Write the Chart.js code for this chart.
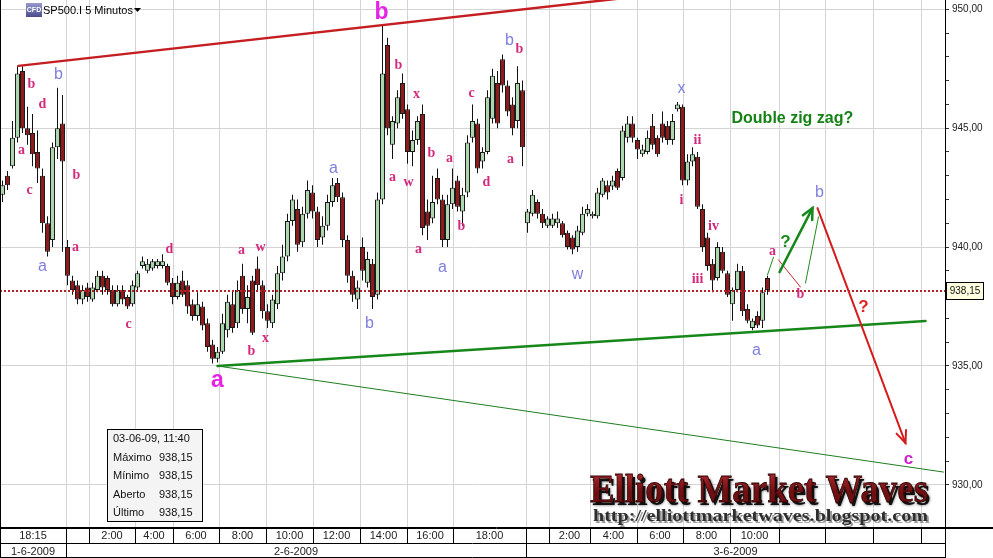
<!DOCTYPE html>
<html>
<head>
<meta charset="utf-8">
<script src="https://cdn.jsdelivr.net/npm/chart.js@4.4.0/dist/chart.umd.min.js"></script>
<style>
  html, body { margin: 0; padding: 0; background: #fff; }
  canvas { display: block; }
</style>
</head>
<body>
<canvas id="chart" width="993" height="558"></canvas>
<script>
// SP500 CFD, 5 minute bars, 1-6-2009 18:15 .. 3-6-2009 11:40
const opens = [942.2, 943.0, 943.4, 944.6, 947.4, 945.0, 944.8, 944.0, 943.0, 941.0,
  940.3, 944.2, 945.2, 940.0, 938.6, 938.4, 937.8, 938.3, 937.8, 938.2,
  938.8, 938.7, 938.2, 937.6, 938.2, 937.9, 937.6, 938.3, 939.2, 939.0,
  939.1, 939.2, 939.2, 939.2, 938.5, 937.9, 938.6, 938.4, 937.6, 937.1,
  937.5, 936.8, 935.9, 935.3, 935.6, 936.5, 937.6, 936.8, 938.8, 937.4,
  938.6, 939.1, 938.4, 937.3, 936.8, 937.6, 938.9, 939.6, 941.1, 941.6,
  940.2, 941.4, 942.3, 941.5, 940.4, 940.9, 941.9, 942.7, 942.1, 940.3,
  938.8, 937.8, 940.0, 938.5, 939.3, 938.0, 942.0, 948.5, 944.3, 945.2,
  946.9, 945.8, 944.0, 944.5, 945.6, 941.5, 941.2, 942.9, 942.0, 940.3,
  941.8, 942.8, 941.5, 942.3, 944.6, 945.2, 943.6, 944.0, 945.4, 946.9,
  947.9, 946.8, 946.0, 945.3, 946.6, 941.0, 941.4, 941.9, 941.4, 940.9,
  940.9, 941.0, 941.0, 940.6, 940.4, 940.0, 940.6, 941.4, 941.3, 941.3,
  942.2, 942.6, 942.55, 943.2, 942.9, 944.6, 945.2, 944.5, 943.9, 944.0,
  945.1, 944.6, 945.2, 945.1, 944.5, 945.8, 945.9, 942.8, 943.6, 943.8,
  941.6, 940.4, 939.3, 938.7, 939.8, 938.9, 937.6, 938.2, 939.0, 937.4,
  936.6, 937.1, 936.9, 938.7, 938.15];
const highs = [942.8, 943.2, 945.3, 947.6, 947.6, 945.9, 945.6, 944.9, 943.3, 941.3,
  944.4, 946.7, 946.4, 940.3, 938.8, 938.6, 938.4, 938.5, 938.5, 939.0,
  939.0, 938.8, 938.4, 938.4, 938.4, 938.0, 938.6, 939.0, 939.6, 939.5,
  939.5, 939.5, 939.7, 939.3, 938.7, 938.8, 939.0, 938.6, 937.8, 938.1,
  937.7, 937.0, 936.1, 935.8, 937.2, 938.0, 938.2, 938.6, 939.3, 938.4,
  938.8, 939.6, 938.6, 937.6, 938.0, 939.2, 940.1, 941.4, 942.2, 942.0,
  941.7, 942.8, 942.6, 941.7, 941.3, 942.2, 942.9, 942.9, 942.3, 940.5,
  939.0, 938.6, 940.4, 939.8, 939.5, 942.3, 949.3, 948.8, 945.5, 946.6,
  947.3, 946.0, 944.9, 945.5, 946.0, 942.0, 943.0, 943.3, 942.2, 942.2,
  943.3, 943.0, 942.5, 944.7, 946.0, 945.4, 944.2, 946.6, 947.5, 947.4,
  948.1, 947.0, 946.3, 947.6, 947.0, 941.6, 942.4, 942.0, 941.6, 941.3,
  941.4, 941.5, 941.1, 940.7, 940.5, 940.9, 941.7, 941.8, 941.5, 942.5,
  942.9, 942.8, 943.0, 943.3, 945.1, 945.5, 945.5, 944.6, 944.3, 944.9,
  945.6, 944.7, 945.7, 945.3, 945.6, 946.1, 946.0, 943.9, 944.2, 944.0,
  941.8, 940.6, 939.5, 940.2, 940.0, 939.0, 938.3, 939.3, 939.2, 937.6,
  937.0, 937.3, 938.3, 938.8, 938.15];
const lows = [941.9, 942.4, 943.3, 944.4, 944.8, 944.3, 943.4, 942.7, 940.6, 939.6,
  940.0, 943.7, 939.8, 938.4, 938.0, 937.6, 937.6, 937.7, 937.7, 938.1,
  938.0, 938.0, 937.5, 937.5, 937.6, 937.4, 937.5, 938.2, 939.1, 938.9,
  939.0, 939.1, 939.1, 938.4, 937.6, 937.8, 937.9, 937.2, 936.9, 936.9,
  936.5, 935.6, 935.1, 935.15, 935.5, 936.2, 936.4, 936.6, 937.2, 936.8,
  936.3, 938.2, 937.0, 936.6, 936.6, 937.4, 938.6, 939.4, 940.9, 939.8,
  940.0, 941.2, 941.2, 940.0, 940.1, 940.7, 941.7, 941.9, 940.0, 938.5,
  937.7, 937.4, 938.6, 938.3, 937.4, 937.8, 941.8, 944.7, 943.7, 945.0,
  945.4, 943.5, 943.4, 944.3, 940.5, 940.3, 941.0, 941.8, 940.0, 940.0,
  941.6, 941.5, 940.9, 942.1, 944.4, 943.1, 943.3, 943.9, 945.2, 945.0,
  946.5, 945.5, 944.7, 945.0, 943.4, 940.6, 941.3, 941.2, 940.8, 940.8,
  940.8, 940.8, 940.4, 939.9, 939.7, 939.8, 940.5, 941.3, 941.2, 941.2,
  942.1, 942.0, 942.4, 942.4, 942.8, 944.4, 944.4, 943.7, 943.8, 943.9,
  944.1, 943.8, 944.4, 944.3, 944.3, 945.7, 942.6, 942.6, 943.4, 941.6,
  939.8, 939.0, 938.1, 938.6, 938.9, 937.9, 936.9, 938.1, 937.1, 936.8,
  936.5, 936.6, 936.6, 938.0, 938.15];
const closes = [942.6, 942.6, 944.6, 947.3, 945.0, 944.7, 943.9, 943.3, 941.0, 939.8,
  944.2, 945.0, 943.6, 938.8, 938.2, 937.8, 938.2, 937.9, 938.3, 938.8,
  938.3, 938.2, 937.6, 938.2, 937.8, 937.5, 938.4, 938.9, 939.4, 939.3,
  939.4, 939.4, 939.4, 938.5, 937.9, 938.5, 938.0, 937.5, 937.1, 937.6,
  936.7, 935.8, 935.3, 935.6, 936.8, 937.7, 936.6, 938.2, 937.4, 937.9,
  936.4, 938.4, 937.3, 936.9, 937.8, 938.9, 939.6, 941.1, 942.0, 940.1,
  941.4, 942.4, 941.5, 940.3, 940.9, 941.9, 942.6, 942.1, 940.3, 938.8,
  938.0, 938.3, 939.0, 939.5, 937.9, 942.0, 947.3, 945.0, 945.3, 946.3,
  945.6, 944.0, 944.5, 945.3, 940.8, 940.9, 941.9, 942.0, 940.3, 941.8,
  942.5, 941.7, 942.2, 944.4, 945.3, 943.3, 944.0, 946.3, 947.2, 945.2,
  946.8, 945.7, 945.0, 946.9, 944.2, 941.5, 942.2, 941.4, 941.0, 941.2,
  941.2, 941.2, 940.5, 940.0, 939.9, 940.7, 941.4, 941.6, 941.4, 942.3,
  942.8, 942.3, 942.8, 942.5, 944.9, 945.2, 944.6, 944.1, 944.1, 944.6,
  944.3, 943.9, 944.6, 944.5, 945.3, 946.0, 942.8, 943.6, 943.9, 941.7,
  940.0, 939.2, 938.6, 940.0, 939.0, 938.0, 938.2, 939.0, 937.3, 936.9,
  936.9, 936.7, 938.1, 938.2, 938.15];
const lastStamp = '03-06-09, 11:40';

// y axis: one tick per point, labelled every 5
const yTicks = [930, 931, 932, 933, 934, 935, 936, 937, 938, 939, 940,
  941, 942, 943, 944, 945, 946, 947, 948, 949, 950];

// time axis (bar index where each time cell starts)
const timeBounds = [12.6, 17.2, 26.4, 34, 43.2, 52.6, 62, 71.4, 80.8, 90,
  104.6, 109.2, 117.6, 126.8, 136.2, 145.6, 155.2, 164.4, 174.2, 183.6];
const timeLabels = ['18:15', '', '2:00', '4:00', '6:00', '8:00', '10:00', '12:00', '14:00', '16:00',
  '18:00', '', '2:00', '4:00', '6:00', '8:00', '10:00', '', '', '', ''];
const dayBreaks = [12.6, 104.6];
const dayLabels = ['1-6-2009', '2-6-2009', '3-6-2009'];

// trend lines and projections [bar index, price]
const upperLine = [[3.2, 947.62], [123, 950.44]];
const supportLine = [[43, 935.0], [184.6, 936.89]];
const lowerLine = [[43, 935.0], [188.2, 930.54]];
const arrowDown = [[163, 941.64], [180.6, 931.76]];
const arrowUp = [[155.4, 938.95], [162, 941.64]];
const thinGreen = [[[153, 938.83], [154.2, 939.58]], [[160.6, 938.49], [163.2, 941.27]]];
const thinRed = [[155.2, 939.46], [159.6, 938.32]];

// wave counts [text, bar index, price, kind]
const waveLabels = [
  ['b', 5.8, 946.86, 'p'], ['d', 8.0, 946.02, 'p'], ['a', 3.8, 944.08, 'p'], ['c', 5.4, 942.40, 'p'],
  ['b', 14.8, 943.03, 'p'], ['a', 14.6, 940.00, 'p'], ['c', 25.2, 936.77, 'p'], ['d', 33.4, 939.92, 'p'],
  ['a', 47.8, 939.88, 'p'], ['w', 51.6, 940.00, 'p'], ['b', 49.8, 935.63, 'p'], ['x', 52.6, 936.14, 'p'],
  ['b', 79.2, 947.66, 'p'], ['x', 82.8, 946.40, 'p'], ['a', 78.0, 942.95, 'p'], ['w', 81.2, 942.70, 'p'],
  ['b', 85.8, 943.96, 'p'], ['a', 89.4, 943.75, 'p'], ['a', 83.2, 939.92, 'p'], ['b', 91.8, 940.85, 'p'],
  ['c', 93.8, 946.48, 'p'], ['d', 96.8, 942.74, 'p'], ['b', 103.4, 948.33, 'p'], ['a', 101.6, 943.70, 'p'],
  ['ii', 139.0, 944.50, 'p'], ['i', 135.8, 941.98, 'p'], ['iv', 142.2, 940.85, 'p'], ['iii', 139.0, 938.66, 'p'],
  ['a', 154.0, 939.84, 'p'], ['b', 159.6, 938.03, 'p'],
  ['b', 11.2, 947.24, 'u'], ['a', 8.0, 939.16, 'u'], ['a', 66.2, 943.28, 'u'], ['b', 73.4, 936.77, 'u'],
  ['a', 88.0, 939.12, 'u'], ['b', 101.4, 948.67, 'u'], ['w', 115.0, 938.83, 'u'], ['x', 135.8, 946.65, 'u'],
  ['b', 163.4, 942.28, 'u'], ['a', 150.8, 935.63, 'u'],
  ['b', 75.8, 949.84, 'm'], ['a', 43.0, 934.37, 'm'], ['c', 181.2, 931.09, 'c'],
  ['?', 156.6, 940.21, 'g'], ['?', 172.2, 937.48, 'r']
];
const noteText = ['Double zig zag?', 145.8, 945.39];

const labelStyles = {
  p: ['bold 14px "Liberation Serif"', '#d42a7e'],
  u: ['16px "Liberation Sans"', '#7f80dc'],
  m: ['bold 23px "Liberation Sans"', '#e524e5'],
  c: ['bold 17px "Liberation Sans"', '#d21ad2'],
  g: ['bold 17px "Liberation Sans"', '#1a8a1a'],
  r: ['bold 17px "Liberation Sans"', '#e0241f']
};

const fmt = v => v.toFixed(2).replace('.', ',');
const n = closes.length;
const lastPrice = closes[n - 1];

const wickData = closes.map((c, i) => ({x: i, y: [lows[i], highs[i]]}));
const bodyData = closes.map((c, i) => ({x: i, y: [Math.min(opens[i], c), Math.max(opens[i], c)]}));
const bodyColors = closes.map((c, i) => c >= opens[i] ? '#aed6ae' : '#8e1b1b');

function toPx(chart, pt) {
  return [chart.scales.x.getPixelForValue(pt[0]), chart.scales.y.getPixelForValue(pt[1])];
}

function drawSeg(ctx, chart, seg, color, width) {
  const [x1, y1] = toPx(chart, seg[0]);
  const [x2, y2] = toPx(chart, seg[1]);
  ctx.strokeStyle = color;
  ctx.lineWidth = width;
  ctx.beginPath();
  ctx.moveTo(x1, y1);
  ctx.lineTo(x2, y2);
  ctx.stroke();
  return [x1, y1, x2, y2];
}

function drawHead(ctx, x1, y1, x2, y2, len, ang) {
  const a = Math.atan2(y2 - y1, x2 - x1);
  ctx.beginPath();
  ctx.moveTo(x2 - len * Math.cos(a - ang), y2 - len * Math.sin(a - ang));
  ctx.lineTo(x2, y2);
  ctx.lineTo(x2 - len * Math.cos(a + ang), y2 - len * Math.sin(a + ang));
  ctx.stroke();
}

function hline(ctx, x1, x2, y) {
  ctx.beginPath(); ctx.moveTo(x1, y + 0.5); ctx.lineTo(x2, y + 0.5); ctx.stroke();
}
function vline(ctx, x, y1, y2) {
  ctx.beginPath(); ctx.moveTo(x + 0.5, y1); ctx.lineTo(x + 0.5, y2); ctx.stroke();
}

const overlay = {
  id: 'overlay',
  beforeDatasetsDraw(chart) {
    const {ctx, chartArea: a, scales: {x}} = chart;
    ctx.save();
    ctx.strokeStyle = '#d4d4d4';
    ctx.lineWidth = 1;
    timeBounds.forEach(t => vline(ctx, Math.round(x.getPixelForValue(t)), a.top, a.bottom));
    ctx.restore();
  },
  afterDatasetsDraw(chart) {
    const {ctx, chartArea: a, scales: {x, y}} = chart;
    ctx.save();
    ctx.beginPath();
    ctx.rect(a.left, a.top, a.right - a.left, a.bottom - a.top);
    ctx.clip();
    ctx.lineCap = 'round';

    // last price, dotted
    ctx.save();
    ctx.setLineDash([2, 2]);
    ctx.lineCap = 'butt';
    ctx.strokeStyle = '#b3232a';
    ctx.lineWidth = 2;
    const ly = Math.round(y.getPixelForValue(lastPrice));
    ctx.beginPath(); ctx.moveTo(a.left, ly); ctx.lineTo(a.right, ly); ctx.stroke();
    ctx.restore();

    drawSeg(ctx, chart, upperLine, '#c41e22', 2.5);
    drawSeg(ctx, chart, supportLine, '#16881a', 2.5);
    drawSeg(ctx, chart, lowerLine, '#1f7d1f', 1);
    thinGreen.forEach(s => drawSeg(ctx, chart, s, '#1f8a1f', 1));
    drawSeg(ctx, chart, thinRed, '#c4282a', 1);

    let s = drawSeg(ctx, chart, arrowUp, '#16881a', 2.5);
    drawHead(ctx, s[0], s[1], s[2], s[3], 12, 0.45);
    s = drawSeg(ctx, chart, arrowDown, '#d41c1c', 2);
    drawHead(ctx, s[0], s[1], s[2], s[3], 13, 0.4);

    ctx.textAlign = 'center';
    ctx.textBaseline = 'middle';
    waveLabels.forEach(([t, xi, pr, k]) => {
      ctx.font = labelStyles[k][0];
      ctx.fillStyle = labelStyles[k][1];
      ctx.fillText(t, x.getPixelForValue(xi), y.getPixelForValue(pr));
    });
    ctx.textAlign = 'left';
    ctx.font = 'bold 16px "Liberation Sans"';
    ctx.fillStyle = '#148214';
    ctx.fillText(noteText[0], x.getPixelForValue(noteText[1]), y.getPixelForValue(noteText[2]));
    ctx.restore();
  },
  afterDraw(chart) {
    const {ctx, chartArea: a, scales: {x, y}} = chart;
    const W = chart.width, H = chart.height;
    ctx.save();

    // instrument title
    const g = ctx.createLinearGradient(0, 3, 0, 17);
    g.addColorStop(0, '#9a9ad0');
    g.addColorStop(1, '#4b4b8c');
    ctx.fillStyle = g;
    ctx.fillRect(26, 3, 16, 14);
    ctx.fillStyle = '#fff';
    ctx.font = 'bold 7px "Liberation Sans"';
    ctx.textAlign = 'center';
    ctx.textBaseline = 'middle';
    ctx.fillText('CFD', 34, 10.5);
    ctx.textAlign = 'left';
    ctx.fillStyle = '#000';
    ctx.font = '11px "Liberation Sans"';
    ctx.fillText('SP500.I 5 Minutos', 43, 10.5);
    ctx.beginPath();
    ctx.moveTo(134, 8); ctx.lineTo(141, 8); ctx.lineTo(137.5, 12); ctx.closePath();
    ctx.fill();

    // data window
    ctx.fillStyle = '#f4f4f4';
    ctx.fillRect(107.5, 429.5, 95, 92);
    ctx.strokeStyle = '#000';
    ctx.lineWidth = 1;
    ctx.strokeRect(107.5, 429.5, 95, 92);
    ctx.fillStyle = '#111';
    ctx.font = '11px "Liberation Sans"';
    ctx.fillText(lastStamp, 113, 439);
    const rows = [['Máximo', highs[n - 1]], ['Mínimo', lows[n - 1]], ['Aberto', opens[n - 1]], ['Último', closes[n - 1]]];
    rows.forEach((r, k) => {
      ctx.fillText(r[0], 113, 458 + k * 18.3);
      ctx.fillText(fmt(r[1]), 159, 458 + k * 18.3);
    });

    // watermark
    const wm = 'Elliott Market Waves';
    ctx.font = 'bold 40px "Liberation Serif"';
    const w1 = ctx.measureText(wm).width;
    ctx.save();
    ctx.translate(590, 492);
    ctx.scale(338 / w1, 1);
    ctx.shadowColor = 'rgba(0,0,0,0.7)';
    ctx.shadowBlur = 3;
    ctx.fillStyle = '#111';
    ctx.fillText(wm, 2.5, 2.5);
    ctx.shadowColor = 'transparent';
    const g2 = ctx.createLinearGradient(0, -28, 0, 0);
    g2.addColorStop(0, '#c8343a');
    g2.addColorStop(1, '#6e0f12');
    ctx.fillStyle = g2;
    ctx.fillText(wm, 0, 0);
    ctx.lineWidth = 0.8;
    ctx.strokeStyle = '#2a0000';
    ctx.strokeText(wm, 0, 0);
    ctx.restore();

    const url = 'http://elliottmarketwaves.blogspot.com';
    ctx.font = 'bold 16px "Liberation Serif"';
    const w2 = ctx.measureText(url).width;
    ctx.save();
    ctx.translate(593, 517);
    ctx.scale(335 / w2, 1);
    ctx.fillStyle = '#9a9a9a';
    ctx.fillText(url, 1.5, 1.5);
    ctx.fillStyle = '#2e2e2e';
    ctx.fillText(url, 0, 0);
    ctx.restore();

    // time axis boxes
    const top = a.bottom, mid = a.bottom + 16, bot = H - 1;
    ctx.fillStyle = '#fff';
    ctx.fillRect(0, top, W, H - top);
    ctx.strokeStyle = '#000';
    ctx.lineWidth = 1;
    hline(ctx, 0, W, top);
    hline(ctx, 0, W, top + 1);
    hline(ctx, 0, a.right, mid);
    hline(ctx, 0, a.right, bot);
    vline(ctx, 0, 0, H);
    vline(ctx, Math.round(a.right), top, H);
    const edges = [a.left].concat(timeBounds.map(t => Math.round(x.getPixelForValue(t))), [Math.round(a.right)]);
    timeBounds.forEach(t => vline(ctx, Math.round(x.getPixelForValue(t)), top, mid));
    dayBreaks.forEach(t => vline(ctx, Math.round(x.getPixelForValue(t)), mid, bot));
    ctx.fillStyle = '#222';
    ctx.font = '11px "Liberation Sans"';
    ctx.textAlign = 'center';
    ctx.textBaseline = 'middle';
    timeLabels.forEach((t, k) => {
      if (t) ctx.fillText(t, (edges[k] + edges[k + 1]) / 2, top + 9);
    });
    const dEdges = [a.left].concat(dayBreaks.map(t => Math.round(x.getPixelForValue(t))), [Math.round(a.right)]);
    dayLabels.forEach((t, k) => ctx.fillText(t, (dEdges[k] + dEdges[k + 1]) / 2, mid + 8.5));

    // last price tag on the axis
    const py = Math.round(y.getPixelForValue(lastPrice));
    ctx.fillStyle = '#ffffe1';
    ctx.fillRect(946.5, py - 8.5, 37, 17);
    ctx.strokeRect(946.5, py - 8.5, 37, 17);
    ctx.fillStyle = '#111';
    ctx.font = '10px "Liberation Sans"';
    ctx.fillText(fmt(lastPrice), 965, py + 0.5);
    ctx.restore();
  }
};

new Chart(document.getElementById('chart'), {
  type: 'bar',
  data: {
    datasets: [
      {
        data: bodyData,
        order: 1,
        grouped: false,
        barThickness: 5,
        backgroundColor: bodyColors,
        borderColor: '#1b1b1b',
        borderWidth: 1,
        borderSkipped: false,
        inflateAmount: 0
      },
      {
        data: wickData,
        order: 2,
        grouped: false,
        barThickness: 1,
        backgroundColor: '#111',
        borderWidth: 0,
        inflateAmount: 0
      }
    ]
  },
  options: {
    responsive: false,
    devicePixelRatio: 1,
    animation: false,
    events: [],
    layout: { padding: { left: 0, right: 0, top: 0, bottom: 31 } },
    plugins: { legend: { display: false }, tooltip: { enabled: false } },
    scales: {
      x: {
        type: 'linear',
        min: -0.5,
        max: 188.5,
        offset: false,
        display: false
      },
      y: {
        position: 'right',
        min: 928.23,
        max: 950.39,
        afterFit: s => { s.width = 48; s.paddingTop = 0; s.paddingBottom = 0; },
        afterBuildTicks: s => { s.ticks = yTicks.map(v => ({ value: v })); },
        border: { display: true, color: '#000' },
        grid: {
          color: c => (c.tick && c.tick.value % 5 === 0) ? '#d4d4d4' : 'rgba(0,0,0,0)',
          tickColor: '#333',
          tickLength: 4
        },
        ticks: {
          autoSkip: false,
          padding: 3,
          color: '#222',
          font: { family: 'Liberation Sans', size: 10 },
          callback: v => v % 5 === 0 ? fmt(v) : ''
        }
      }
    }
  },
  plugins: [overlay]
});
</script>
</body>
</html>
